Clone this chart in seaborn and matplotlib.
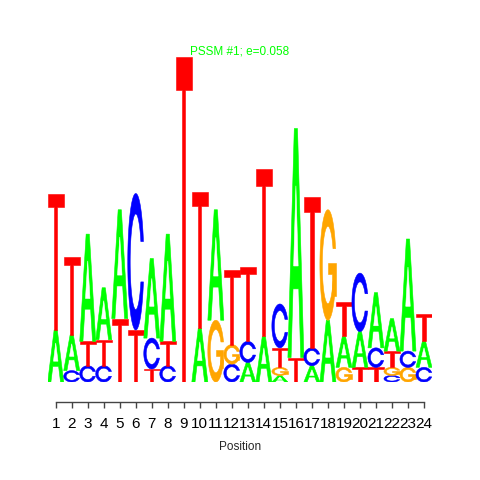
import numpy as np
import matplotlib
matplotlib.use("Agg")
import matplotlib.pyplot as plt
from matplotlib.patches import Polygon
import seaborn as sns

# ===============================
# DATA (information content in bits)
# ===============================
positions = list(range(1, 25))
bits_A = [0.32, 0.22, 0.66, 0.32, 0.67, 0.00, 0.49, 0.66, 0.00, 0.33, 0.68, 0.00,
          0.12, 0.28, 0.04, 1.41, 0.10, 0.38, 0.19, 0.22, 0.34, 0.20, 0.69, 0.16]
bits_C = [0.00, 0.07, 0.10, 0.10, 0.00, 0.84, 0.19, 0.10, 0.00, 0.00, 0.00, 0.11,
          0.13, 0.00, 0.27, 0.00, 0.11, 0.00, 0.00, 0.36, 0.12, 0.04, 0.10, 0.09]
bits_G = [0.00, 0.00, 0.00, 0.00, 0.00, 0.00, 0.00, 0.00, 0.00, 0.00, 0.38, 0.12,
          0.00, 0.00, 0.05, 0.00, 0.00, 0.68, 0.09, 0.00, 0.00, 0.05, 0.09, 0.00]
bits_T = [0.84, 0.48, 0.15, 0.16, 0.39, 0.32, 0.08, 0.15, 2.00, 0.84, 0.00, 0.46,
          0.46, 1.03, 0.12, 0.15, 0.93, 0.00, 0.21, 0.09, 0.09, 0.10, 0.00, 0.17]
letters = ["A", "C", "G", "T"]
title_text = "PSSM #1; e=0.058"
x_label = "Position"

letter_colors = {"A": "#00FF00", "C": "#0000FF", "G": "#FFA500", "T": "#FF0000"}

# ===============================
# LETTER SHAPES (unit box)
# ===============================
def ring_shape():
    a1 = np.linspace(0.3 + np.pi / 2, np.pi, 100)
    a2 = np.linspace(np.pi, 1.5 * np.pi, 100)
    xl1, yl1 = 0.5 + 0.5 * np.sin(a1), 0.5 + 0.5 * np.cos(a1)
    xl2, yl2 = 0.5 + 0.5 * np.sin(a2), 0.5 + 0.5 * np.cos(a2)
    xl = np.concatenate([xl1, xl2])
    yl = np.concatenate([yl1, yl2])
    x = np.concatenate([xl, xl[::-1]])
    y = np.concatenate([yl, 1 - yl[::-1]])
    xi1, yi1 = 0.5 + 0.35 * np.sin(a1), 0.5 + 0.35 * np.cos(a1)
    keep = yi1 <= yl1.max()
    xi1, yi1 = xi1[keep], yi1[keep].copy()
    yi1[0] = yl1.max()
    xi2, yi2 = 0.5 + 0.35 * np.sin(a2), 0.5 + 0.35 * np.cos(a2)
    xi = np.concatenate([xi1, xi2])
    yi = np.concatenate([yi1, yi2])
    x1 = np.concatenate([xi, xi[::-1]])
    y1 = np.concatenate([yi, 1 - yi[::-1]])
    x = np.concatenate([x, x1[::-1]])
    y = np.concatenate([y, y1[::-1]])
    return np.column_stack([x, y]), xl1.max()


ring, r1 = ring_shape()
shape_A = np.array([[0, 0], [.4, 1], [.6, 1], [1, 0], [.8, 0], [.68, .3],
                    [.32, .3], [.2, 0]])
hole_A = np.array([[.36, .4], [.5, .75], [.64, .4]])
shape_T = np.array([[0, 1], [1, 1], [1, .9], [.6, .9], [.6, 0], [.4, 0],
                    [.4, .9], [0, .9]])
bar_G = np.array([[r1, .52], [.5, .52], [.5, .42], [r1 - .2, .42],
                  [r1 - .2, .22], [r1, .22]])

shapes = {
    "A": [(shape_A, None), (hole_A, "white")],
    "C": [(ring, None)],
    "G": [(ring, None), (bar_G, None)],
    "T": [(shape_T, None)],
}

# ===============================
# PLOT
# ===============================
sns.set_theme(style="white")
plt.rcParams["font.family"] = ["Liberation Sans", "DejaVu Sans"]

fig, ax = plt.subplots(figsize=(4.8, 4.8), dpi=100)
ax.set_position([0.0994, 0.2042, 0.8006, 0.677])

heights = {"A": bits_A, "C": bits_C, "G": bits_G, "T": bits_T}
for i, pos in enumerate(positions):
    col = sorted([(heights[l][i], l) for l in letters])
    y0 = 0.0
    for h, l in col:
        if h <= 0:
            continue
        for pts, fill in shapes[l]:
            xy = np.column_stack([pos - 0.5 + pts[:, 0], y0 + h * pts[:, 1]])
            c = fill or letter_colors[l]
            ax.add_patch(Polygon(xy, closed=True, facecolor=c, edgecolor=c,
                                 linewidth=0.4))
        y0 += h

ax.set_xlim(0.5, 24.5)
ax.set_ylim(0, 2)
ax.set_xticks(positions)
ax.set_xticklabels([str(p) for p in positions], fontsize=8.5)
ax.set_yticks([])
ax.set_xlabel(x_label, fontsize=8.5, labelpad=7)

sns.despine(ax=ax, left=True)
ax.spines["bottom"].set_bounds(1, 24)
ax.spines["bottom"].set_position(("outward", 14.5))
ax.spines["bottom"].set_color("#444444")
ax.spines["bottom"].set_linewidth(1)
ax.tick_params(axis="x", bottom=True, length=4.5, width=1, color="#444444",
               pad=6.5, labelcolor="black")

fig.text(239.5 / 480, 1 - 52 / 480, title_text, ha="center", va="center",
         color="#00FF00", fontsize=8.5)

fig.savefig("out.png", dpi=100)
